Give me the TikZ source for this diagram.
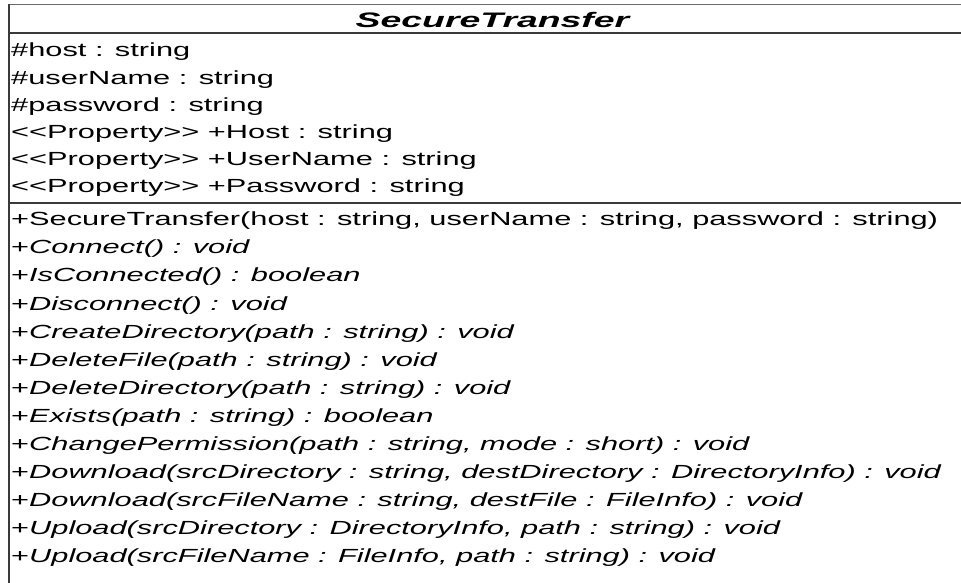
\documentclass[tikz,border=0pt]{standalone}
\usepackage{fontspec}
\setmainfont{Liberation Sans}
\usepackage{graphicx}
% class diagram text is set wide
\newcommand{\widetext}[1]{\scalebox{1.62}[1]{#1}}
\newcommand{\widetitle}[1]{\scalebox{1.78}[1]{#1}}
\definecolor{frame}{HTML}{3A3A3A}
\tikzset{
  member/.style={anchor=base west, inner sep=0pt, font=\fontsize{19}{22}\selectfont},
  classname/.style={anchor=base, inner sep=0pt, font=\fontsize{21}{24}\selectfont\bfseries\itshape},
  frameline/.style={draw=frame, line width=1.6pt},
}
\begin{document}
\begin{tikzpicture}[x=1pt,y=-1pt]
\useasboundingbox (0,0) rectangle (961,583);
\clip (0,0) rectangle (961,583);

% class box with its compartments
\coordinate (tl) at (9,4.5);
\coordinate (tr) at (975,4.5);
\coordinate (bl) at (9,600);
\draw[frameline, draw=frame!75] (tl) -- (tr);
\draw[frameline] (tl) -- (bl);
\draw[frameline] (9,33) -- (975,33);
\draw[frameline] (9,203) -- (975,203);

% class name
\node[classname] (name) at (492.5,27.5) {\widetitle{SecureTransfer}};

% attributes
\node[member] (a1) at (11,57)    {\widetext{\#host : string}};
\node[member] (a2) at (11,84.2)  {\widetext{\#userName : string}};
\node[member] (a3) at (11,111.4) {\widetext{\#password : string}};
\node[member] (a4) at (11,138.6) {\widetext{<{}<Property>{}> +Host : string}};
\node[member] (a5) at (11,165.8) {\widetext{<{}<Property>{}> +UserName : string}};
\node[member] (a6) at (11,193)   {\widetext{<{}<Property>{}> +Password : string}};

% operations
\node[member] (m1)  at (11,225.7) {\widetext{+SecureTransfer(host : string, userName : string, password : string)}};
\node[member] (m2)  at (11,253.8) {\widetext{+\textit{Connect() : void}}};
\node[member] (m3)  at (11,281.9) {\widetext{+\textit{IsConnected() : boolean}}};
\node[member] (m4)  at (11,310.0) {\widetext{+\textit{Disconnect() : void}}};
\node[member] (m5)  at (11,338.1) {\widetext{+\textit{CreateDirectory(path : string) : void}}};
\node[member] (m6)  at (11,366.2) {\widetext{+\textit{DeleteFile(path : string) : void}}};
\node[member] (m7)  at (11,394.2) {\widetext{+\textit{DeleteDirectory(path : string) : void}}};
\node[member] (m8)  at (11,422.3) {\widetext{+\textit{Exists(path : string) : boolean}}};
\node[member] (m9)  at (11,450.4) {\widetext{+\textit{ChangePermission(path : string, mode : short) : void}}};
\node[member] (m10) at (11,478.5) {\widetext{+\textit{Download(srcDirectory : string, destDirectory : DirectoryInfo) : void}}};
\node[member] (m11) at (11,506.6) {\widetext{+\textit{Download(srcFileName : string, destFile : FileInfo) : void}}};
\node[member] (m12) at (11,534.7) {\widetext{+\textit{Upload(srcDirectory : DirectoryInfo, path : string) : void}}};
\node[member] (m13) at (11,562.7) {\widetext{+\textit{Upload(srcFileName : FileInfo, path : string) : void}}};
\end{tikzpicture}
\end{document}
